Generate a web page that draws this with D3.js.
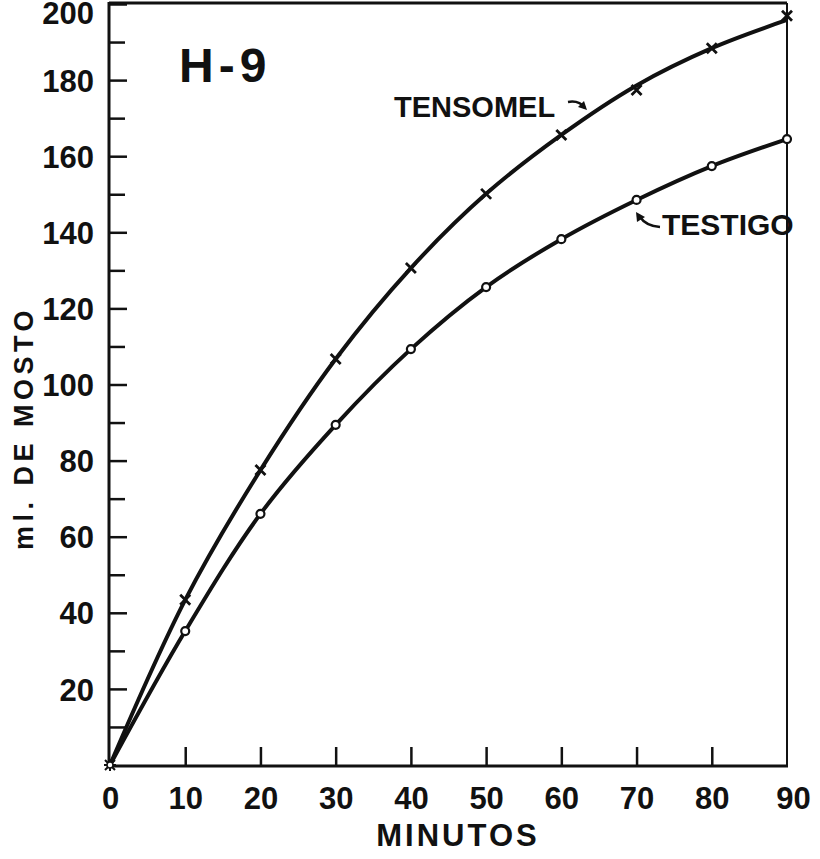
<!DOCTYPE html>
<html>
<head>
<meta charset="utf-8">
<script src="https://cdn.jsdelivr.net/npm/d3@7"></script>
<style>
  html, body { margin: 0; padding: 0; background: #fff; }
  svg { display: block; }
  text { font-family: "Liberation Sans", Arial, sans-serif; font-weight: bold; fill: #111; }
</style>
</head>
<body>
<svg id="chart" width="820" height="859"></svg>
<script>
// ---- data ----
const minutes = [0, 10, 20, 30, 40, 50, 60, 70, 80, 90];
const tensomelPoints = [0, 43.4, 77.5, 106.7, 130.6, 150.1, 165.6, 177.4, 188.4, 196.9];
const tensomelCurve  = [0, 43.4, 77.5, 106.7, 130.6, 150.1, 165.6, 178.6, 188.4, 195.8];
const testigoPoints  = [0, 35.2, 66.0, 89.4, 109.3, 125.6, 138.2, 148.5, 157.4, 164.5];
const yTickLabels = [20, 40, 60, 80, 100, 120, 140, 160, 180, 200];
const yMinorTicks = [10, 30, 50, 70, 90, 110, 130, 150, 170, 190];
const xTickLabels = [0, 10, 20, 30, 40, 50, 60, 70, 80, 90];

const svg = d3.select("#chart");
const x = d3.scaleLinear().domain([0, 90]).range([110, 787]);
const y = d3.scaleLinear().domain([0, 200]).range([765, 4]);

// frame
svg.append("line").attr("x1", x(0) - 1).attr("x2", x(90)).attr("y1", y(200) - 1).attr("y2", y(200) - 1)
  .attr("stroke", "#111").attr("stroke-width", 3);
svg.append("line").attr("x1", x(90)).attr("x2", x(90)).attr("y1", y(200) - 1).attr("y2", y(0) + 1)
  .attr("stroke", "#111").attr("stroke-width", 2);
svg.append("line").attr("x1", x(0) - 1).attr("x2", x(0) - 1).attr("y1", y(200) - 2).attr("y2", y(0) + 2)
  .attr("stroke", "#111").attr("stroke-width", 3);
svg.append("line").attr("x1", x(0) - 2).attr("x2", x(90) + 1).attr("y1", y(0) + 1).attr("y2", y(0) + 1)
  .attr("stroke", "#111").attr("stroke-width", 3);

// y axis, labelled ticks
const yAxis = svg.append("g").attr("transform", `translate(${x(0) - 1},0)`)
  .call(d3.axisLeft(y).tickValues(yTickLabels).tickSizeInner(-18).tickSizeOuter(0).tickPadding(15));
yAxis.select(".domain").remove();
yAxis.selectAll(".tick line").attr("stroke", "#111").attr("stroke-width", 2.5);
yAxis.selectAll(".tick text").attr("font-size", 31).attr("dy", "0.36em")
  .style("font-family", "'Liberation Sans', Arial, sans-serif").style("font-weight", "bold").attr("fill", "#111");
// top label sits against the page edge; keep it just inside
yAxis.selectAll(".tick").filter(d => d === 200).select("text").attr("dy", "0.62em");

// y axis, minor ticks
const yMinor = svg.append("g").attr("transform", `translate(${x(0) - 1},0)`)
  .call(d3.axisLeft(y).tickValues(yMinorTicks).tickSizeInner(-16).tickSizeOuter(0).tickFormat(""));
yMinor.select(".domain").remove();
yMinor.selectAll(".tick line").attr("stroke", "#111").attr("stroke-width", 2.5);

// x axis
const xAxis = svg.append("g").attr("transform", `translate(0,${y(0) + 1})`)
  .call(d3.axisBottom(x).tickValues(xTickLabels).tickSizeInner(-19).tickSizeOuter(0).tickPadding(21));
xAxis.select(".domain").remove();
xAxis.selectAll(".tick line").attr("stroke", "#111").attr("stroke-width", 2.5)
  .filter(d => d === 0 || d === 90).remove();
xAxis.selectAll(".tick text").attr("font-size", 31)
  .style("font-family", "'Liberation Sans', Arial, sans-serif").style("font-weight", "bold").attr("fill", "#111");
xAxis.selectAll(".tick").filter(d => d === 90).select("text").attr("dx", 6);

// axis titles
svg.append("text").attr("x", 458).attr("y", 846).attr("text-anchor", "middle")
  .attr("font-size", 31).attr("letter-spacing", 3).text("MINUTOS");
svg.append("text").attr("transform", "translate(33,428) rotate(-90)").attr("text-anchor", "middle")
  .attr("font-size", 27).attr("letter-spacing", 4.5).text("ml. DE MOSTO");

// lines
const line = d3.line().x((d, i) => x(minutes[i])).y(d => y(d)).curve(d3.curveCatmullRom.alpha(0.5));
svg.append("path").datum(tensomelCurve).attr("d", line)
  .attr("fill", "none").attr("stroke", "#111").attr("stroke-width", 4);
svg.append("path").datum(testigoPoints).attr("d", line)
  .attr("fill", "none").attr("stroke", "#111").attr("stroke-width", 4);

// markers: crosses for TENSOMEL
const cross = svg.append("g");
tensomelPoints.forEach((v, i) => {
  if (i === 0) return;
  const cx = x(minutes[i]), cy = y(v), s = 5;
  cross.append("path")
    .attr("d", `M${cx - s},${cy - s}L${cx + s},${cy + s}M${cx - s},${cy + s}L${cx + s},${cy - s}`)
    .attr("stroke", "#111").attr("stroke-width", 2.8).attr("fill", "none");
});
// circles for TESTIGO
svg.append("g").selectAll("circle").data(testigoPoints.slice(1)).join("circle")
  .attr("cx", (d, i) => x(minutes[i + 1])).attr("cy", d => y(d)).attr("r", 4)
  .attr("fill", "#fff").attr("stroke", "#111").attr("stroke-width", 2.2);

// origin marker
{
  const cx = x(0), cy = y(0), s = 5;
  svg.append("path")
    .attr("d", `M${cx - s},${cy - s}L${cx + s},${cy + s}M${cx - s},${cy + s}L${cx + s},${cy - s}M${cx},${cy - s - 1}L${cx},${cy + s + 1}M${cx - s - 1},${cy}L${cx + s + 1},${cy}`)
    .attr("stroke", "#111").attr("stroke-width", 2).attr("fill", "none");
  svg.append("circle").attr("cx", cx).attr("cy", cy).attr("r", 3).attr("fill", "#fff").attr("stroke", "#111").attr("stroke-width", 1.5);
}

// labels
svg.append("text").attr("x", 179).attr("y", 82).attr("font-size", 48).attr("letter-spacing", 5).text("H-9");
svg.append("text").attr("x", 394).attr("y", 117).attr("font-size", 29).text("TENSOMEL");
svg.append("text").attr("x", 662).attr("y", 235).attr("font-size", 30).text("TESTIGO");

// arrows
svg.append("path").attr("d", "M568,102 Q579,100 585,108").attr("fill", "none")
  .attr("stroke", "#111").attr("stroke-width", 2.5);
svg.append("path").attr("d", "M578,107 L587,110 L584,101 Z").attr("fill", "#111");
svg.append("path").attr("d", "M660,227 Q646,226 640,217").attr("fill", "none")
  .attr("stroke", "#111").attr("stroke-width", 2.5);
svg.append("path").attr("d", "M636,212 L637,222 L645,217 Z").attr("fill", "#111");
</script>
</body>
</html>
